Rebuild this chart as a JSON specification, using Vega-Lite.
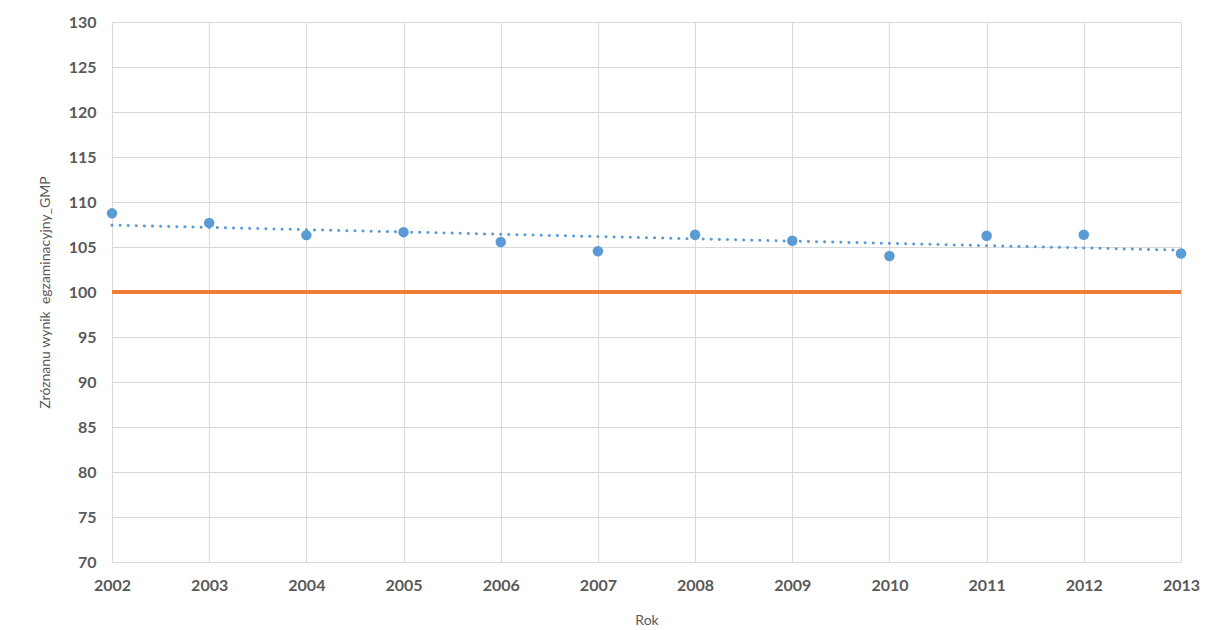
{
  "$schema": "https://vega.github.io/schema/vega-lite/v6.json",
  "width": 1069,
  "height": 540,
  "autosize": "none",
  "padding": {"left": 112, "top": 22, "right": 25, "bottom": 68},
  "background": "white",
  "config": {
    "view": {"stroke": null},
    "font": "Lato"
  },
  "data": {
    "values": [
      {"rok": 2002, "wynik": 108.74},
      {"rok": 2003, "wynik": 107.68},
      {"rok": 2004, "wynik": 106.32},
      {"rok": 2005, "wynik": 106.65},
      {"rok": 2006, "wynik": 105.55},
      {"rok": 2007, "wynik": 104.53},
      {"rok": 2008, "wynik": 106.37},
      {"rok": 2009, "wynik": 105.7},
      {"rok": 2010, "wynik": 104.0},
      {"rok": 2011, "wynik": 106.25},
      {"rok": 2012, "wynik": 106.37},
      {"rok": 2013, "wynik": 104.27}
    ]
  },
  "encoding": {
    "x": {
      "field": "rok",
      "type": "quantitative",
      "scale": {"domain": [2002, 2013], "nice": false, "zero": false},
      "axis": {
        "title": "Rok",
        "values": [2002, 2003, 2004, 2005, 2006, 2007, 2008, 2009, 2010, 2011, 2012, 2013],
        "format": "d",
        "grid": true,
        "gridColor": "#D9D9D9",
        "domainColor": "#D9D9D9",
        "ticks": false,
        "labelPadding": 15,
        "labelFontSize": 16,
        "labelFontWeight": "bold",
        "labelColor": "#595959",
        "labelFlush": false,
        "titleFontSize": 14,
        "titleFontWeight": "normal",
        "titleColor": "#595959",
        "titlePadding": 20
      }
    },
    "y": {
      "field": "wynik",
      "type": "quantitative",
      "scale": {"domain": [70, 130], "nice": false, "zero": false},
      "axis": {
        "title": "Zróznanu wynik\u00a0\u00a0egzaminacyjny_GMP",
        "values": [70, 75, 80, 85, 90, 95, 100, 105, 110, 115, 120, 125, 130],
        "grid": true,
        "gridColor": "#D9D9D9",
        "domain": false,
        "ticks": false,
        "labelPadding": 16,
        "labelFontSize": 16,
        "labelFontWeight": "bold",
        "labelColor": "#595959",
        "titleFontSize": 14,
        "titleFontWeight": "normal",
        "titleColor": "#595959",
        "titlePadding": 16
      }
    }
  },
  "layer": [
    {
      "mark": {"type": "rule", "color": "#ED7D31", "strokeWidth": 2.5},
      "encoding": {
        "y": {"datum": 100},
        "x": {"datum": 2002},
        "x2": {"datum": 2013}
      }
    },
    {
      "transform": [{"regression": "wynik", "on": "rok"}],
      "mark": {"type": "line", "color": "#5B9BD5", "strokeWidth": 3, "strokeCap": "round", "strokeDash": [0.1, 8]}
    },
    {
      "mark": {"type": "circle", "color": "#5B9BD5", "opacity": 1, "size": 110}
    }
  ]
}
